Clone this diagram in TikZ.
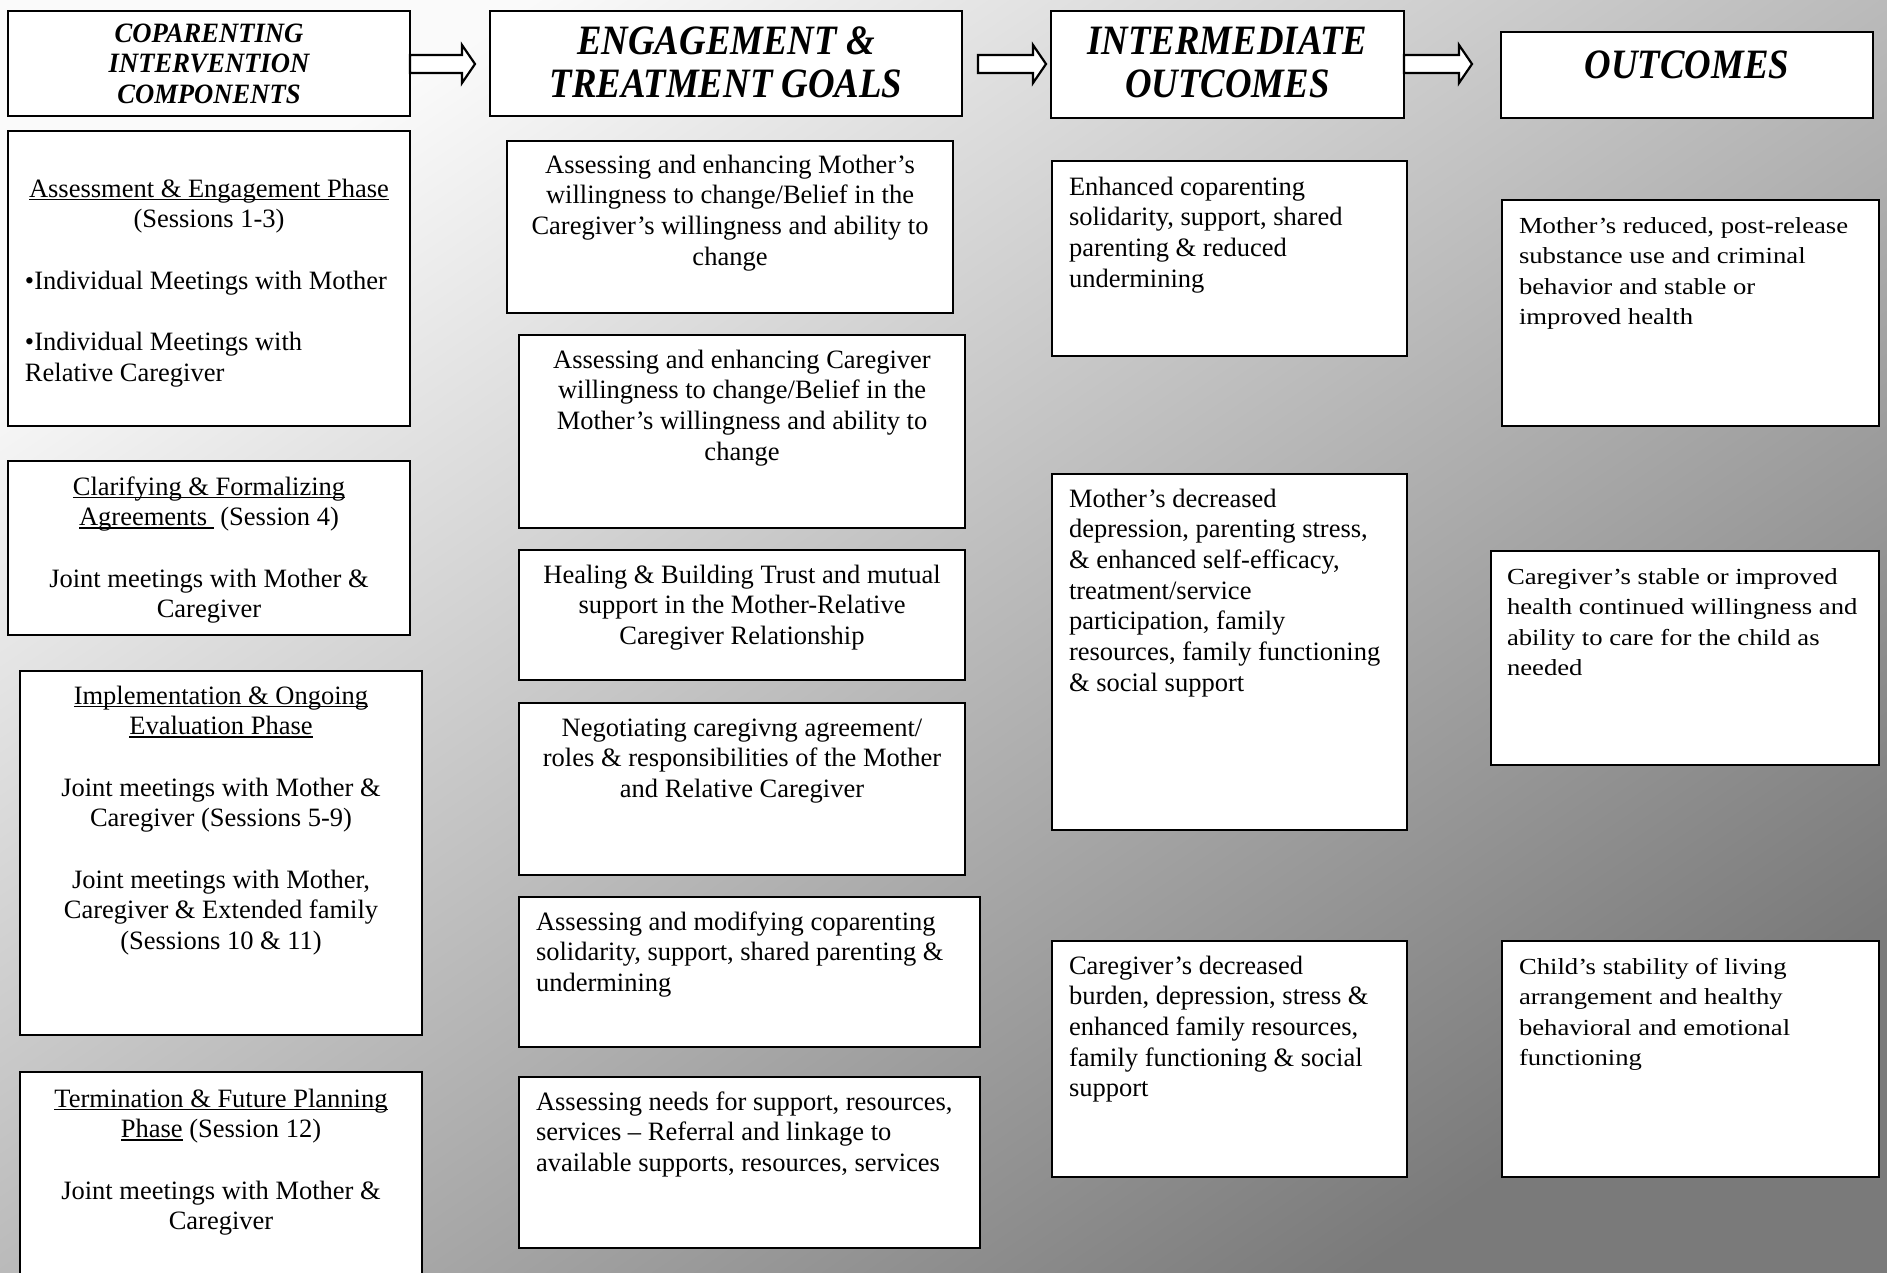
\documentclass[tikz,border=0pt]{standalone}
\usepackage{fontspec}
\setmainfont{Liberation Serif}
\newfontfamily\hfntsmall[FakeStretch=0.95]{Liberation Serif}
\newfontfamily\hfntbig[FakeStretch=0.88]{Liberation Serif}
\newfontfamily\widefnt[FakeStretch=1.16]{Liberation Serif}
\usetikzlibrary{calc}
\newsavebox\ulbox
\newcommand\myul[1]{\leavevmode\sbox\ulbox{#1}\rlap{\rule[-3pt]{\wd\ulbox}{1.5pt}}\usebox\ulbox}
\newcommand\bodyfont{\fontsize{26.5}{30.7}\selectfont}
\newcommand\hsmallset{\centering\hfntsmall\bfseries\itshape\fontsize{28}{30.75}\selectfont}
\newcommand\hbigset{\centering\hfntbig\bfseries\itshape\fontsize{41.8}{43.5}\selectfont}
\newcommand\wideset{\raggedright\leftskip=17pt\relax\widefnt\fontsize{23}{30.5}\selectfont}
\newcommand\leftset{\raggedright\leftskip=17pt\relax}
\definecolor{bgA}{gray}{0.98}
\definecolor{bgM}{gray}{0.78}
\definecolor{bgB}{gray}{0.48}
\tikzset{
  boxst/.style={draw=black, fill=white, line width=2.8pt, inner sep=0pt, outer sep=0pt, anchor=north west, font=\bodyfont},
  arrst/.style={draw=black, fill=white, line width=2.2pt, line join=miter}
}
% name x1 y1 x2 y2 firstbaseline setup text
\newcommand\tbox[8]{%
  \node[boxst] (#1) at (#2,#3) {\parbox[c][\dimexpr#5pt-#3pt\relax][t]{\dimexpr#4pt-#2pt\relax}{#7\vspace*{\dimexpr#6pt-#3pt-0.7\baselineskip+2pt\relax}\strut#8\par}};%
}
\newcommand\fatarrow[2]{%
  \draw[arrst] let \p1=(#1), \p2=(#2) in
    (\x1,\y1+9pt) -- (\x2-13pt,\y1+9pt) -- (\x2-13pt,\y1+19pt) -- (\x2,\y1)
    -- (\x2-13pt,\y1-19pt) -- (\x2-13pt,\y1-9pt) -- (\x1,\y1-9pt) -- cycle;%
}
\begin{document}
\begin{tikzpicture}[x=1pt,y=-1pt]
\useasboundingbox (0,0) rectangle (1887,1272);
\clip (0,0) rectangle (1887,1272);
\shade[top color=bgA, middle color=bgM, bottom color=bgB, shading angle=34] (0,0) rectangle (1887,1272);

% headers
\tbox{h1}{8}{11}{410}{116}{40}{\hsmallset}{COPARENTING\\INTERVENTION\\COMPONENTS}
\tbox{h2}{490}{11}{962}{116}{52}{\hbigset}{ENGAGEMENT \&\\TREATMENT GOALS}
\tbox{h3}{1051}{11}{1404}{118}{52}{\hbigset}{INTERMEDIATE\\OUTCOMES}
\tbox{h4}{1501}{32}{1873}{118}{76}{\hbigset}{OUTCOMES}

% arrows
\coordinate (a1s) at (410,64);
\coordinate (a1e) at (475,64);
\coordinate (a2s) at (978,64);
\coordinate (a2e) at (1046,64);
\coordinate (a3s) at (1404,64);
\coordinate (a3e) at (1472,64);
\fatarrow{a1s}{a1e}
\fatarrow{a2s}{a2e}
\fatarrow{a3s}{a3e}

% column 1
\tbox{b1}{8}{131}{410}{426}{195}{\centering}{\myul{Assessment \& Engagement Phase}\\(Sessions 1-3)\par\vspace{\baselineskip}\raggedright\leftskip=17pt\relax •Individual Meetings with Mother\par\vspace{\baselineskip}•Individual Meetings with\\Relative Caregiver}
\tbox{b2}{8}{461}{410}{635}{493}{\centering}{\myul{Clarifying \& Formalizing}\\\myul{Agreements\ }\ (Session 4)\par\vspace{\baselineskip}Joint meetings with Mother \&\\Caregiver}
\tbox{b3}{20}{671}{422}{1035}{702}{\centering}{\myul{Implementation \& Ongoing}\\\myul{Evaluation Phase}\par\vspace{\baselineskip}Joint meetings with Mother \&\\Caregiver (Sessions 5-9)\par\vspace{\baselineskip}Joint meetings with Mother,\\Caregiver \& Extended family\\(Sessions 10 \& 11)}
\tbox{b4}{20}{1072}{422}{1300}{1105}{\centering}{\myul{Termination \& Future Planning}\\\myul{Phase} (Session 12)\par\vspace{\baselineskip}Joint meetings with Mother \&\\Caregiver}

% column 2
\tbox{c1}{507}{141}{953}{313}{171}{\centering}{Assessing and enhancing Mother’s\\willingness to change/Belief in the\\Caregiver’s willingness and ability to\\change}
\tbox{c2}{519}{335}{965}{528}{366}{\centering}{Assessing and enhancing Caregiver\\willingness to change/Belief in the\\Mother’s willingness and ability to\\change}
\tbox{c3}{519}{550}{965}{680}{581}{\centering}{Healing \& Building Trust and mutual\\support in the Mother-Relative\\Caregiver Relationship}
\tbox{c4}{519}{703}{965}{875}{734}{\centering}{Negotiating caregivng agreement/\\roles \& responsibilities of the Mother\\and Relative Caregiver}
\tbox{c5}{519}{897}{980}{1047}{928}{\leftset}{Assessing and modifying coparenting\\solidarity, support, shared parenting \&\\undermining}
\tbox{c6}{519}{1077}{980}{1248}{1108}{\leftset}{Assessing needs for support, resources,\\services – Referral and linkage to\\available supports, resources, services}

% column 3
\tbox{d1}{1052}{161}{1407}{356}{193}{\leftset}{Enhanced coparenting\\solidarity, support, shared\\parenting \& reduced\\undermining}
\tbox{d2}{1052}{474}{1407}{830}{505}{\leftset}{Mother’s decreased\\depression, parenting stress,\\\& enhanced self-efficacy,\\treatment/service\\participation, family\\resources, family functioning\\\& social support}
\tbox{d3}{1052}{941}{1407}{1177}{972}{\leftset}{Caregiver’s decreased\\burden, depression, stress \&\\enhanced family resources,\\family functioning \& social\\support}

% column 4
\tbox{e1}{1502}{200}{1879}{426}{231}{\wideset}{Mother’s reduced, post-release\\substance use and criminal\\behavior and stable or\\improved health}
\tbox{e2}{1491}{551}{1879}{765}{582}{\wideset\leftskip=16pt\relax}{Caregiver’s stable or improved\\health continued willingness and\\ability to care for the child as\\needed}
\tbox{e3}{1502}{941}{1879}{1177}{972}{\wideset}{Child’s stability of living\\arrangement and healthy\\behavioral and emotional\\functioning}
\end{tikzpicture}
\end{document}
